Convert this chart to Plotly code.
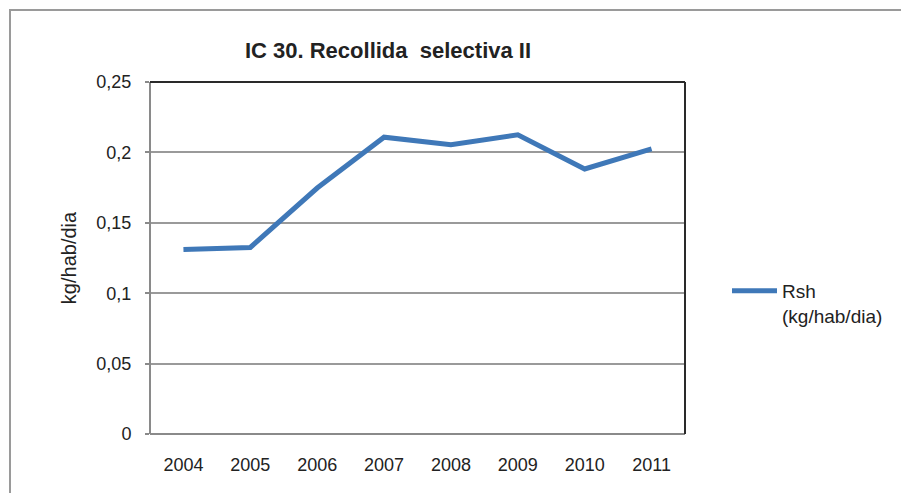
import plotly.graph_objects as go

years = ["2004", "2005", "2006", "2007", "2008", "2009", "2010", "2011"]
rsh = [0.131, 0.1325, 0.1747, 0.2108, 0.2054, 0.2125, 0.1882, 0.2025]
y_ticks = [0, 0.05, 0.1, 0.15, 0.2, 0.25]
y_labels = ["0", "0,05", "0,1", "0,15", "0,2", "0,25"]

OFF = 8  # default page body margin (both sides)
W, H = 909 - 2 * OFF, 501 - 2 * OFF
# plot area in page pixels: x 150..685, y 82..434
L, T = 150 - OFF, 82 - OFF
R = W - (685 - OFF)
B = H - (434 - OFF)
pw, ph = W - L - R, H - T - B

def px(x):  # page pixel -> paper x
    return (x - OFF - L) / pw

def py(y):  # page pixel -> paper y
    return (H - B - (y - OFF)) / ph

font = "Liberation Sans, Arial, sans-serif"

fig = go.Figure()
fig.add_trace(go.Scatter(
    x=years, y=rsh, mode="lines", name="Rsh<br>(kg/hab/dia)",
    line=dict(color="#3f78b8", width=5),
))

shapes = [
    dict(type="rect", xref="paper", yref="paper", x0=px(10), x1=px(930), y0=py(520), y1=py(10),
         line=dict(color="#9a9a9a", width=2), layer="below"),
    dict(type="line", xref="paper", yref="paper", x0=0, x1=0, y0=0, y1=1, line=dict(color="#8a8a8a", width=2)),
    dict(type="line", xref="paper", yref="paper", x0=0, x1=1, y0=0, y1=0, line=dict(color="#8a8a8a", width=2)),
    dict(type="line", xref="paper", yref="paper", x0=0, x1=1, y0=1, y1=1, line=dict(color="#2a2a2a", width=2)),
    dict(type="line", xref="paper", yref="paper", x0=1, x1=1, y0=0, y1=1, line=dict(color="#2a2a2a", width=2)),
]

fig.update_layout(
    width=W, height=H,
    margin=dict(l=L, r=R, t=T, b=B, autoexpand=False),
    paper_bgcolor="white", plot_bgcolor="white",
    font=dict(family=font, color="#222222", size=18),
    title=dict(text="<b>IC 30. Recollida\u00a0 selectiva II</b>", x=(388 - OFF) / W, xanchor="center",
               y=1 - (50 - OFF) / H, yanchor="middle", font=dict(size=22, family=font, color="#222222")),
    xaxis=dict(type="category", range=[-0.5, 7.5], showgrid=False, showline=False,
               ticks="", tickfont=dict(size=18), ticklabelstandoff=18, zeroline=False),
    yaxis=dict(range=[0, 0.25], tickvals=y_ticks, ticktext=y_labels, showgrid=True,
               gridcolor="#9a9a9a", gridwidth=1.5, zeroline=False, showline=False,
               ticks="outside", ticklen=4, tickcolor="#8a8a8a", tickwidth=1.5,
               ticklabelstandoff=10, tickfont=dict(size=18),
               title=dict(text="kg/hab/dia", font=dict(size=20), standoff=14)),
    showlegend=True,
    legend=dict(x=px(727), xanchor="left", y=py(272), yanchor="top", valign="top",
                itemwidth=45, font=dict(size=19), bgcolor="rgba(0,0,0,0)"),
    shapes=shapes,
)

fig.write_html("out.html")
